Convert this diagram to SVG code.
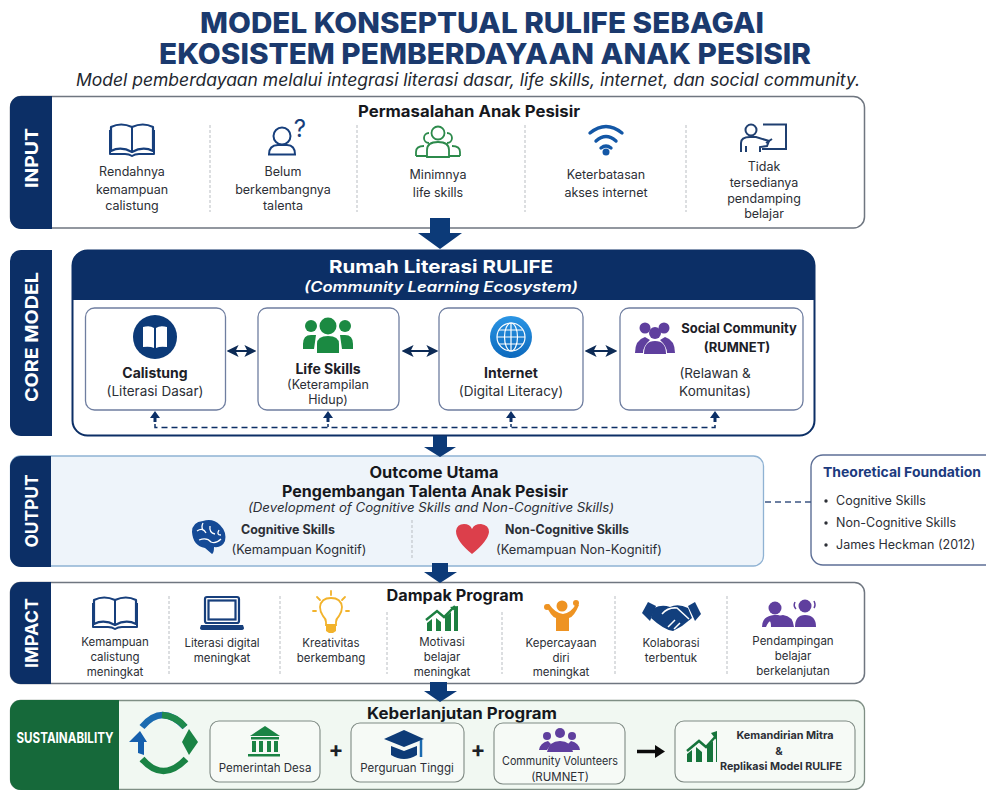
<svg xmlns="http://www.w3.org/2000/svg" width="986" height="790" viewBox="0 0 986 790">
<style>
text{font-family:Inter,"Noto Sans","Liberation Sans",sans-serif;fill:#2c2f36;text-anchor:middle}
.title{font-size:29px;font-weight:800;fill:#1b3a6e}
.sub{font-size:17px;font-style:italic;fill:#22262e}
.side{font-size:18px;font-weight:700;fill:#fff}
.head{font-size:15.500px;font-weight:700;fill:#16181d}
.t{font-size:12.500px}
.s{font-size:11.500px}
.b{font-size:14px;font-weight:700;fill:#1c2027}
.l{text-anchor:start}
.panel{fill:#fff;stroke:#6f7680;stroke-width:1.500}
.card{fill:#fff;stroke:#6f7ea0;stroke-width:1.300}
.gcard{fill:#f6faf6;stroke:#7f8a84;stroke-width:1.100}
.div{stroke:#b9bdc2;stroke-width:1;stroke-dasharray:3 2;fill:none}
.navy{fill:#0c2f66}
.flow{fill:#0c3a78}
.dbl{stroke:#0c2a55;stroke-width:2;fill:none;marker-start:url(#ah);marker-end:url(#ah)}
</style>
<defs>
<linearGradient id="globe" x1="0" y1="0" x2="0" y2="1"><stop offset="0" stop-color="#2b95e4"/><stop offset="1" stop-color="#0c69bd"/></linearGradient>
<marker id="ah" viewBox="0 0 10 10" refX="8" refY="5" markerWidth="6" markerHeight="6" orient="auto-start-reverse"><path d="M0 0L10 5L0 10L2.500 5Z" fill="#0c2a55"/></marker>
<g id="book"><path d="M0 27V3Q10-2 21 3Q32-2 42 3V27Q32 22 21 28Q10 22 0 27Z" fill="none" stroke="#173f7c" stroke-width="2.200" stroke-linejoin="round"/><path d="M21 3V27M-1 6V30H14Q18 30 21 32Q24 30 28 30H43V6" fill="none" stroke="#173f7c" stroke-width="2" stroke-linejoin="round"/></g>
<g id="up"><path d="M0-8L5-1H1.500V3H-1.500V-1H-5Z" fill="#0c2f66"/></g>
</defs>

<g id="title">
<text class="title" x="482" y="33" textLength="564" lengthAdjust="spacingAndGlyphs">MODEL KONSEPTUAL RULIFE SEBAGAI</text>
<text class="title" x="485" y="64" textLength="652" lengthAdjust="spacingAndGlyphs">EKOSISTEM PEMBERDAYAAN ANAK PESISIR</text>
<text class="sub" x="468" y="86" textLength="784" lengthAdjust="spacingAndGlyphs">Model pemberdayaan melalui integrasi literasi dasar, life skills, internet, dan social community.</text>
</g>

<g id="input">
<rect class="panel" x="10.500" y="96.500" width="854" height="131.500" rx="11"/>
<path class="navy" d="M52 96H21A11 11 0 0 0 10 107V218A11 11 0 0 0 21 229H52Z"/>
<text class="side" transform="translate(38 158) rotate(-90)" textLength="60" lengthAdjust="spacingAndGlyphs">INPUT</text>
<text class="head" x="469" y="117" textLength="222" lengthAdjust="spacingAndGlyphs">Permasalahan Anak Pesisir</text>
<path class="div" d="M210 125V212M357 125V212M525 125V212M686 125V212"/>
<use href="#book" x="111" y="124"/>
<g fill="none" stroke="#173f7c" stroke-width="2"><circle cx="282" cy="136" r="8.500"/><path d="M269 154.500Q269 145 278 145H287Q295 145 295 154.500Z"/></g>
<text x="300" y="137" style="font-size:24px;fill:#173f7c">?</text>
<g fill="none" stroke="#2c8a4b" stroke-width="1.800"><circle cx="438" cy="133" r="6.500"/><path d="M427 157V150Q427 142 438 142Q449 142 449 150V157Z"/><path d="M429 133A5 5 0 1 0 429 143M447 133A5 5 0 1 1 447 143M416 156V152Q416 146 424 146M460 156V152Q460 146 452 146M416 156H427M449 156H460"/></g>
<g fill="none" stroke="#1357a6" stroke-width="3.400" stroke-linecap="round"><path d="M590 133Q606 120 622 133M596 141Q606 132 616 141M601 148Q606 144 611 148"/></g><circle cx="606" cy="152" r="3.500" fill="#1357a6"/>
<g fill="none" stroke="#1f3f70" stroke-width="2"><path d="M763 124.500H786V149H762M766 143L772 139"/><circle cx="751" cy="130" r="5.500"/><path d="M741 152V143Q741 137 750 137H756L769 141L767 146L760 147V152M746 146V152"/></g>
<g class="t">
<text x="132" y="176">Rendahnya</text><text x="132" y="194">kemampuan</text><text x="132" y="210">calistung</text>
<text x="283" y="176">Belum</text><text x="283" y="194">berkembangnya</text><text x="283" y="210">talenta</text>
<text x="438" y="179">Minimnya</text><text x="438" y="197">life skills</text>
<text x="606" y="179">Keterbatasan</text><text x="606" y="197">akses internet</text>
<text x="764" y="171">Tidak</text><text x="764" y="187">tersedianya</text><text x="764" y="203">pendamping</text><text x="764" y="218">belajar</text>
</g>
</g>

<g id="core">
<path class="navy" d="M52 250H21A11 11 0 0 0 10 261V425A11 11 0 0 0 21 436H52Z"/>
<text class="side" transform="translate(38 337) rotate(-90)" textLength="130" lengthAdjust="spacingAndGlyphs">CORE MODEL</text>
<rect x="72.500" y="250.500" width="742" height="185" rx="15" fill="#fff" stroke="#0c2f66" stroke-width="2"/>
<path class="navy" d="M72 300V266A16 16 0 0 1 88 250H799A16 16 0 0 1 815 266V300Z"/>
<text x="441" y="273" textLength="224" lengthAdjust="spacingAndGlyphs" style="font-size:18px;font-weight:700;fill:#fff">Rumah Literasi RULIFE</text>
<text x="441" y="292" textLength="274" lengthAdjust="spacingAndGlyphs" style="font-size:14.500px;font-weight:600;font-style:italic;fill:#fff">(Community Learning Ecosystem)</text>
</g>

<g id="calistung">
<rect class="card" x="85.500" y="308" width="140" height="102" rx="9"/>
<circle cx="155" cy="337" r="22" fill="#0c3a78"/>
<path d="M143 327Q150 325 154 328V348Q150 346 143 347ZM156 328Q160 325 167 327V347Q160 346 156 348Z" fill="#fff"/>
<text class="b" x="155" y="378">Calistung</text><text class="t" x="155" y="396" style="font-size:13.500px">(Literasi Dasar)</text>
</g>
<g id="life-skills">
<rect class="card" x="258" y="308" width="141" height="102" rx="9"/>
<g fill="#1b8a42"><circle cx="328" cy="326" r="8.500"/><path d="M317 353V344Q317 336 328 336Q339 336 339 344V353Z"/><circle cx="311" cy="326" r="6"/><circle cx="345" cy="326" r="6"/><path d="M303 349V344Q303 335 311 335H316L314 349ZM353 349V344Q353 335 345 335H340L342 349Z"/></g>
<text class="b" x="328" y="374">Life Skills</text><text class="t" x="328" y="389">(Keterampilan</text><text class="t" x="328" y="404">Hidup)</text>
</g>
<g id="internet">
<rect class="card" x="439" y="308" width="144" height="102" rx="9"/>
<circle cx="511" cy="337" r="21" fill="url(#globe)"/>
<g fill="none" stroke="#fff" stroke-width="1.200"><circle cx="511" cy="337" r="14"/><ellipse cx="511" cy="337" rx="6.500" ry="14"/><path d="M511 323V351M497 337H525M499 330H523M499 344H523"/></g>
<text class="b" x="511" y="378">Internet</text><text class="t" x="511" y="396" style="font-size:13.500px">(Digital Literacy)</text>
</g>
<g id="social-community">
<rect class="card" x="620" y="308" width="183" height="102" rx="9"/>
<g fill="#5f3f9e"><circle cx="645" cy="328" r="5.500"/><circle cx="664" cy="328" r="5.500"/><circle cx="655" cy="333" r="6"/><path d="M635 353Q635 340 645 337L650 340Q643 346 643 353ZM675 353Q675 340 665 337L660 340Q667 346 667 353Z"/><path d="M644 354Q644 341 655 341Q666 341 666 354Z"/></g>
<text class="b" x="739" y="333" style="font-size:13px">Social Community</text><text class="b" x="737" y="352" style="font-size:13px">(RUMNET)</text>
<text class="t" x="715" y="378" style="font-size:13.500px">(Relawan &amp;</text><text class="t" x="715" y="396" style="font-size:13.500px">Komunitas)</text>
</g>

<g id="output">
<rect x="10.500" y="456" width="753" height="110" rx="10" fill="#eef4fa" stroke="#8fb2d3" stroke-width="1.300"/>
<path class="navy" d="M51 456H21A11 11 0 0 0 10 467V556A11 11 0 0 0 21 567H51Z"/>
<text class="side" transform="translate(38 511) rotate(-90)" textLength="73" lengthAdjust="spacingAndGlyphs">OUTPUT</text>
<text class="head" x="434" y="478" textLength="129" lengthAdjust="spacingAndGlyphs">Outcome Utama</text>
<text class="head" x="425" y="497" textLength="286" lengthAdjust="spacingAndGlyphs">Pengembangan Talenta Anak Pesisir</text>
<text x="431" y="512" textLength="366" lengthAdjust="spacingAndGlyphs" style="font-size:12.500px;font-style:italic">(Development of Cognitive Skills and Non-Cognitive Skills)</text>
<path d="M192 532Q192 522 203 521Q213 518 220 525Q227 532 225 541Q222 548 214 547Q214 553 212 554L205 548Q193 546 192 532Z" fill="#154a96"/>
<path d="M197 531Q203 527 206 533M210 526Q209 533 215 534M199 540Q207 537 211 542Q216 544 221 539M203 523Q201 527 203 530M219 530Q216 535 221 535" fill="none" stroke="#fff" stroke-width="1.300"/>
<text x="288" y="534" textLength="94" lengthAdjust="spacingAndGlyphs" style="font-size:12.500px;font-weight:700">Cognitive Skills</text>
<text class="t" x="299" y="554" textLength="135" lengthAdjust="spacingAndGlyphs">(Kemampuan Kognitif)</text>
<path class="div" d="M412 520V558"/>
<path d="M472 554Q456 541 456 531Q457 524 464 524Q470 524 472 529Q474 524 481 524Q489 525 489 532Q488 541 472 554Z" fill="#dc3f4b"/>
<text x="567" y="534" textLength="124" lengthAdjust="spacingAndGlyphs" style="font-size:12.500px;font-weight:700">Non-Cognitive Skills</text>
<text class="t" x="579" y="554" textLength="166" lengthAdjust="spacingAndGlyphs">(Kemampuan Non-Kognitif)</text>
</g>

<g id="theoretical-foundation">
<path d="M986 455H823A12 12 0 0 0 811 467V553A12 12 0 0 0 823 565H986" fill="#fff" stroke="#5d6f96" stroke-width="1.400"/>
<text class="l" x="823" y="477" textLength="158" lengthAdjust="spacingAndGlyphs" style="font-size:13.500px;font-weight:700;fill:#1b3a7e">Theoretical Foundation</text>
<g fill="#2c2f36"><circle cx="826" cy="501" r="1.700"/><circle cx="826" cy="523" r="1.700"/><circle cx="826" cy="545" r="1.700"/></g>
<text class="t l" x="836" y="505">Cognitive Skills</text><text class="t l" x="836" y="527">Non-Cognitive Skills</text><text class="t l" x="836" y="549">James Heckman (2012)</text>
</g>

<g id="impact">
<rect class="panel" x="10.500" y="582.500" width="854" height="101" rx="10"/>
<path class="navy" d="M51 582H21A11 11 0 0 0 10 593V673A11 11 0 0 0 21 684H51Z"/>
<text class="side" transform="translate(38 633) rotate(-90)" textLength="70" lengthAdjust="spacingAndGlyphs">IMPACT</text>
<text class="head" x="455" y="601" textLength="137" lengthAdjust="spacingAndGlyphs">Dampak Program</text>
<path class="div" d="M169 596V674M280 596V674M387 612V674M502 612V674M615 596V674M727 596V674"/>
<use href="#book" x="94" y="597"/>
<g fill="none" stroke="#173f7c" stroke-width="2.200"><rect x="205" y="597" width="34" height="26" rx="2"/><rect x="208.500" y="600.500" width="27" height="19"/></g>
<path d="M201 625H243L244 628Q244 630 241 630H203Q200 630 200 628Z" fill="#173f7c"/>
<g fill="none" stroke="#f2b32c" stroke-width="1.800" stroke-linecap="round"><path d="M326 625V622Q326 619 323 616Q320 612 320 607Q321 598 331 598Q341 598 342 607Q342 612 339 616Q336 619 336 622V625Z"/><path d="M331 591V595M317 597L320 600M345 597L342 600M313 611H316M346 611H349"/></g><path d="M326 626H336V631L333 633H329L326 631Z" fill="#f2b32c"/>
<g fill="#1c7f40"><path d="M427 631V623L432 619V631ZM436 631V618L441 622V631ZM445 631V617L451 612V631ZM454 631V611L458 608V631Z"/></g><path d="M426 620L437 611L444 617L455 606" fill="none" stroke="#1c7f40" stroke-width="2.400"/><path d="M450 607L458 606L458 614Z" fill="#1c7f40"/>
<g fill="#ee9322"><circle cx="562" cy="606" r="5.500"/><path d="M549 604L546 605Q551 617 556 618V631H569V618Q574 617 579 605L576 604Q571 613 563 614Q555 613 549 604Z"/><circle cx="547" cy="607" r="3"/><circle cx="576" cy="603" r="3"/></g>
<g fill="#123f7d"><path d="M642 613L648 602L656 606L650 621Z"/><path d="M688 606L695 602L701 614L695 621Z"/><path d="M654 608Q662 604 670 607Q678 603 688 608L692 618L682 626L673 631Q664 630 651 618Z"/></g>
<path d="M662 614Q668 607 677 608L689 619M668 627L675 620M674 629L680 623" fill="none" stroke="#fff" stroke-width="1.500"/>
<g fill="#5f3f9e"><circle cx="775" cy="608" r="6.500"/><circle cx="805" cy="606" r="6.500"/><path d="M772 627Q772 616 783 615Q793 616 794 627H772ZM772 627H771Q771 616 766 627H772ZM772 627Q762 627 762 627Q762 616 774 615H778Q788 616 789 627Z"/><path d="M795 627Q795 615 805 615Q816 615 816 627Z"/></g>
<path d="M795 602Q793 606 796 609M814 601Q816 605 814 608" fill="none" stroke="#5f3f9e" stroke-width="1.500"/>
<g class="s">
<text x="115" y="646">Kemampuan</text><text x="115" y="661">calistung</text><text x="115" y="676">meningkat</text>
<text x="222" y="647">Literasi digital</text><text x="222" y="662">meningkat</text>
<text x="331" y="647">Kreativitas</text><text x="331" y="662">berkembang</text>
<text x="442" y="646">Motivasi</text><text x="442" y="661">belajar</text><text x="442" y="676">meningkat</text>
<text x="561" y="647">Kepercayaan</text><text x="561" y="662">diri</text><text x="561" y="676">meningkat</text>
<text x="671" y="647">Kolaborasi</text><text x="671" y="662">terbentuk</text>
<text x="793" y="645">Pendampingan</text><text x="793" y="660">belajar</text><text x="793" y="675">berkelanjutan</text>
</g>
</g>

<g id="sustainability">
<rect x="10.500" y="700.500" width="854" height="89" rx="10" fill="#f1f8f2" stroke="#7f8f85" stroke-width="1.300"/>
<path d="M119 700H21A11 11 0 0 0 10 711V779A11 11 0 0 0 21 790H119Z" fill="#16693a"/>
<text x="65" y="743" textLength="97" lengthAdjust="spacingAndGlyphs" style="font-size:15px;font-weight:700;fill:#fff">SUSTAINABILITY</text>
<text class="head" x="462" y="719" textLength="190" lengthAdjust="spacingAndGlyphs">Keberlanjutan Program</text>
<path d="M142 727Q162 703 185 727" fill="none" stroke="#1b6bb0" stroke-width="6.500"/>
<path d="M162 715Q176 716 185 727" fill="none" stroke="#1f8a4c" stroke-width="6.500"/>
<path d="M142 759Q163 783 186 759" fill="none" stroke="#1a8344" stroke-width="6.500"/>
<path d="M129 742L140 731L147 742L144 742V755L138 753V742Z" fill="#155fad"/>
<path d="M189 729L182 742L189 755L198 742Z" fill="#1a8344"/>
</g>
<g id="pemerintah-desa">
<rect class="gcard" x="210" y="721" width="110" height="61" rx="9"/>
<g fill="#1a8344"><path d="M265 726L280 736H250Z"/><rect x="251" y="737" width="28" height="2.500"/><rect x="252" y="741" width="4" height="11"/><rect x="259" y="741" width="4" height="11"/><rect x="267" y="741" width="4" height="11"/><rect x="274" y="741" width="4" height="11"/><rect x="248" y="754" width="32" height="2.500"/></g>
<text class="s" x="265" y="772">Pemerintah Desa</text>
</g>
<g id="perguruan-tinggi">
<rect class="gcard" x="351" y="723" width="113" height="59" rx="9"/>
<path d="M404 730L424 739L404 747L384 739Z" fill="#0d3b77"/><path d="M391 746V755Q404 763 417 755V746L404 751Z" fill="#0d3b77"/><path d="M421 740V757" stroke="#1b6bb0" stroke-width="2.500"/>
<text class="s" x="407" y="772">Perguruan Tinggi</text>
</g>
<g id="community-volunteers">
<rect class="gcard" x="494" y="723" width="131" height="61" rx="9"/>
<g fill="#5f3f9e"><circle cx="547" cy="736" r="4"/><circle cx="560" cy="733" r="5"/><circle cx="572" cy="736" r="4"/><path d="M539 750Q540 743 548 741L551 744L547 750ZM580 750Q579 743 571 741L568 744L572 750Z"/><path d="M547 752Q549 741 560 741Q571 741 573 752Z"/></g>
<text class="s" x="560" y="765" textLength="116" lengthAdjust="spacingAndGlyphs">Community Volunteers</text><text class="s" x="560" y="781">(RUMNET)</text>
</g>
<g id="kemandirian-mitra">
<rect class="gcard" x="675" y="721" width="180" height="61" rx="9"/>
<g fill="#16743b"><path d="M687 762V754L692 750V762ZM696 762V747L702 752V762ZM707 762V746L713 741V762ZM716 762V740L717 738V762Z"/></g>
<path d="M687 751L699 741L706 747L716 736" fill="none" stroke="#16743b" stroke-width="2.500"/><path d="M711 733L717 731L717 741Z" fill="#16743b"/>
<text x="785" y="739" textLength="97" lengthAdjust="spacingAndGlyphs" style="font-size:11px;font-weight:700">Kemandirian Mitra</text><text x="779" y="755" style="font-size:11px;font-weight:700">&amp;</text><text x="781" y="770" textLength="122" lengthAdjust="spacingAndGlyphs" style="font-size:11px;font-weight:700">Replikasi Model RULIFE</text>
</g>

<g id="connectors">
<path class="flow" d="M430 218H450V233H462L440 249L418 233H430Z"/>
<path class="flow" d="M433 436H447V447H456L440 457L424 447H433Z"/>
<path class="flow" d="M432 563H448V572H457L440 583L424 572H432Z"/>
<path class="flow" d="M430 682H447V691H457L440 702L424 691H430Z"/>
<path class="dbl" d="M229 351H254"/>
<path class="dbl" d="M404 351H436"/>
<path class="dbl" d="M587 351H615"/>
<path d="M155 424V427.500H715V424" fill="none" stroke="#0c2f66" stroke-width="1.500" stroke-dasharray="6 4"/>
<path d="M328 427V424M511 427V424" stroke="#0c2f66" stroke-width="1.500"/>
<use href="#up" x="155" y="419"/><use href="#up" x="328" y="419"/><use href="#up" x="511" y="419"/><use href="#up" x="715" y="419"/>
<path d="M765 502H811" fill="none" stroke="#3d5583" stroke-width="1.500" stroke-dasharray="6 4"/>
<text x="336" y="757" style="font-size:22px;font-weight:700;fill:#1c2027">+</text>
<text x="478" y="757" style="font-size:22px;font-weight:700;fill:#1c2027">+</text>
<path d="M637 751.500H656" stroke="#0b0b0b" stroke-width="3.500"/><path d="M655 745L665 751.500L655 758Z" fill="#0b0b0b"/>
</g>
</svg>
